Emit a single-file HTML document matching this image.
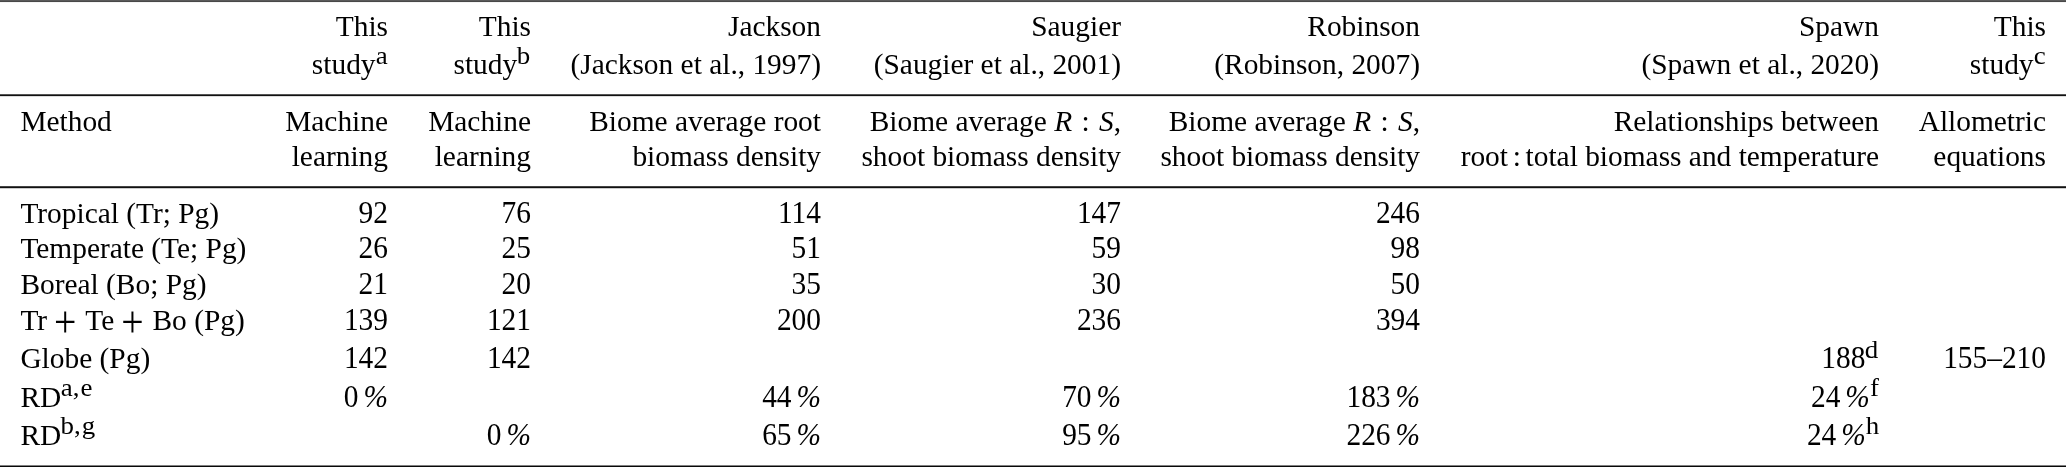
<!DOCTYPE html>
<html lang="en"><head><meta charset="utf-8"><title>Table</title>
<style>
html,body{margin:0;padding:0;background:#fff;}
body{width:2067px;height:467px;position:relative;overflow:hidden;will-change:transform;font-family:"Liberation Serif","Times New Roman",serif;font-size:29.4px;color:#000;}
.t{position:absolute;white-space:nowrap;height:40px;line-height:40px;filter:blur(0.35px);}
.n{transform:scaleY(1.06);transform-origin:0 29.92px;}
.rule{position:absolute;left:0;width:2066px;height:1px;}
sup{font-size:0.825em;vertical-align:baseline;position:relative;line-height:0;display:inline-block;transform:scaleX(1.11);transform-origin:100% 100%;}
.cm{display:inline-block;padding:0 0.035em 0 0;}
.th{display:inline-block;width:0.17em;}
.rel{display:inline-block;padding:0 0.315em 0 0.32em;}
.col{display:inline-block;width:0.6em;text-align:center;}
.pl{display:inline-block;width:0.963em;text-align:center;font-size:1.35em;line-height:0;position:relative;top:4.5px;left:-1px;transform:scaleY(1.14);}
i{font-style:italic;}
</style></head><body>
<div class="rule" style="top:0px;background:#5a5a5a"></div>
<div class="rule" style="top:1px;background:#484848"></div>
<div class="rule" style="top:2px;background:#f4f4f4"></div>
<div class="rule" style="top:94px;background:#555"></div>
<div class="rule" style="top:95px;background:#111"></div>
<div class="rule" style="top:96px;background:#ddd"></div>
<div class="rule" style="top:186px;background:#444"></div>
<div class="rule" style="top:187px;background:#111"></div>
<div class="rule" style="top:188px;background:#ccc"></div>
<div class="rule" style="top:465px;background:#808080"></div>
<div class="rule" style="top:466px;background:#080808"></div>
<div class="t" style="right:1679.0px;top:6.28px">This</div>
<div class="t" style="right:1679.0px;top:44.28px">study<sup style="top:-10.7px;margin:0 0.6px 0 1.1px">a</sup></div>
<div class="t" style="right:1536.0px;top:6.28px">This</div>
<div class="t" style="right:1536.0px;top:44.28px">study<sup style="top:-10.7px;margin:0 0.6px 0 1.1px">b</sup></div>
<div class="t" style="right:1246.0px;top:6.28px">Jackson</div>
<div class="t" style="right:1246.0px;top:44.28px">(Jackson et al., 1997)</div>
<div class="t" style="right:946.0px;top:6.28px">Saugier</div>
<div class="t" style="right:946.0px;top:44.28px">(Saugier et al., 2001)</div>
<div class="t" style="right:647.0px;top:6.28px">Robinson</div>
<div class="t" style="right:647.0px;top:44.28px">(Robinson, 2007)</div>
<div class="t" style="right:188.0px;top:6.28px">Spawn</div>
<div class="t" style="right:188.0px;top:44.28px">(Spawn et al., 2020)</div>
<div class="t" style="right:21.0px;top:6.28px">This</div>
<div class="t" style="right:21.0px;top:44.28px">study<sup style="top:-10.7px;margin:0 0.6px 0 1.1px">c</sup></div>
<div class="t" style="left:20.4px;top:101.28px">Method</div>
<div class="t" style="right:1679.0px;top:101.28px">Machine</div>
<div class="t" style="right:1679.0px;top:136.28px">learning</div>
<div class="t" style="right:1536.0px;top:101.28px">Machine</div>
<div class="t" style="right:1536.0px;top:136.28px">learning</div>
<div class="t" style="right:1246.0px;top:101.28px">Biome average root</div>
<div class="t" style="right:1246.0px;top:136.28px">biomass density</div>
<div class="t" style="right:946.0px;top:101.28px">Biome average <i>R</i><span class="rel">:</span><i>S</i>,</div>
<div class="t" style="right:946.0px;top:136.28px">shoot biomass density</div>
<div class="t" style="right:647.0px;top:101.28px">Biome average <i>R</i><span class="rel">:</span><i>S</i>,</div>
<div class="t" style="right:647.0px;top:136.28px">shoot biomass density</div>
<div class="t" style="right:188.0px;top:101.28px">Relationships between</div>
<div class="t" style="right:188.0px;top:136.28px">root<span class="col">:</span>total biomass and temperature</div>
<div class="t" style="right:21.0px;top:101.28px">Allometric</div>
<div class="t" style="right:21.0px;top:136.28px">equations</div>
<div class="t" style="left:20.4px;top:193.28px">Tropical (Tr; Pg)</div>
<div class="t" style="left:20.4px;top:228.28px">Temperate (Te; Pg)</div>
<div class="t" style="left:20.4px;top:264.28px">Boreal (Bo; Pg)</div>
<div class="t" style="left:20.4px;top:300.28px">Tr<span class="pl">+</span>Te<span class="pl">+</span>Bo (Pg)</div>
<div class="t" style="left:20.4px;top:338.28px">Globe (Pg)</div>
<div class="t" style="left:20.4px;top:377.28px">RD<sup style="top:-11.0px;margin:0 0px 0 2.6px">a<span class="cm">,</span>e</sup></div>
<div class="t" style="left:20.4px;top:415.28px">RD<sup style="top:-11.0px;margin:0 0px 0 2.6px">b<span class="cm">,</span>g</sup></div>
<div class="t n" style="right:1679.0px;top:193.28px">92</div>
<div class="t n" style="right:1679.0px;top:228.28px">26</div>
<div class="t n" style="right:1679.0px;top:264.28px">21</div>
<div class="t n" style="right:1679.0px;top:300.28px">139</div>
<div class="t n" style="right:1679.0px;top:338.28px">142</div>
<div class="t n" style="right:1679.0px;top:377.28px">0<span class="th"></span><i>%</i></div>
<div class="t n" style="right:1536.0px;top:193.28px">76</div>
<div class="t n" style="right:1536.0px;top:228.28px">25</div>
<div class="t n" style="right:1536.0px;top:264.28px">20</div>
<div class="t n" style="right:1536.0px;top:300.28px">121</div>
<div class="t n" style="right:1536.0px;top:338.28px">142</div>
<div class="t n" style="right:1536.0px;top:415.28px">0<span class="th"></span><i>%</i></div>
<div class="t n" style="right:1246.0px;top:193.28px">114</div>
<div class="t n" style="right:1246.0px;top:228.28px">51</div>
<div class="t n" style="right:1246.0px;top:264.28px">35</div>
<div class="t n" style="right:1246.0px;top:300.28px">200</div>
<div class="t n" style="right:1246.0px;top:377.28px">44<span class="th"></span><i>%</i></div>
<div class="t n" style="right:1246.0px;top:415.28px">65<span class="th"></span><i>%</i></div>
<div class="t n" style="right:946.0px;top:193.28px">147</div>
<div class="t n" style="right:946.0px;top:228.28px">59</div>
<div class="t n" style="right:946.0px;top:264.28px">30</div>
<div class="t n" style="right:946.0px;top:300.28px">236</div>
<div class="t n" style="right:946.0px;top:377.28px">70<span class="th"></span><i>%</i></div>
<div class="t n" style="right:946.0px;top:415.28px">95<span class="th"></span><i>%</i></div>
<div class="t n" style="right:647.0px;top:193.28px">246</div>
<div class="t n" style="right:647.0px;top:228.28px">98</div>
<div class="t n" style="right:647.0px;top:264.28px">50</div>
<div class="t n" style="right:647.0px;top:300.28px">394</div>
<div class="t n" style="right:647.0px;top:377.28px">183<span class="th"></span><i>%</i></div>
<div class="t n" style="right:647.0px;top:415.28px">226<span class="th"></span><i>%</i></div>
<div class="t n" style="right:188.0px;top:338.28px">188<sup style="top:-8.8px;margin:0 0.4px 0 1.1px">d</sup></div>
<div class="t n" style="right:188.0px;top:377.28px">24<span class="th"></span><i>%</i><sup style="top:-9.7px;margin:0 0.3px 0 0.8px">f</sup></div>
<div class="t n" style="right:188.0px;top:415.28px">24<span class="th"></span><i>%</i><sup style="top:-9.7px;margin:0 0.3px 0 0.8px">h</sup></div>
<div class="t n" style="right:21.0px;top:338.28px">155–210</div>
</body></html>
